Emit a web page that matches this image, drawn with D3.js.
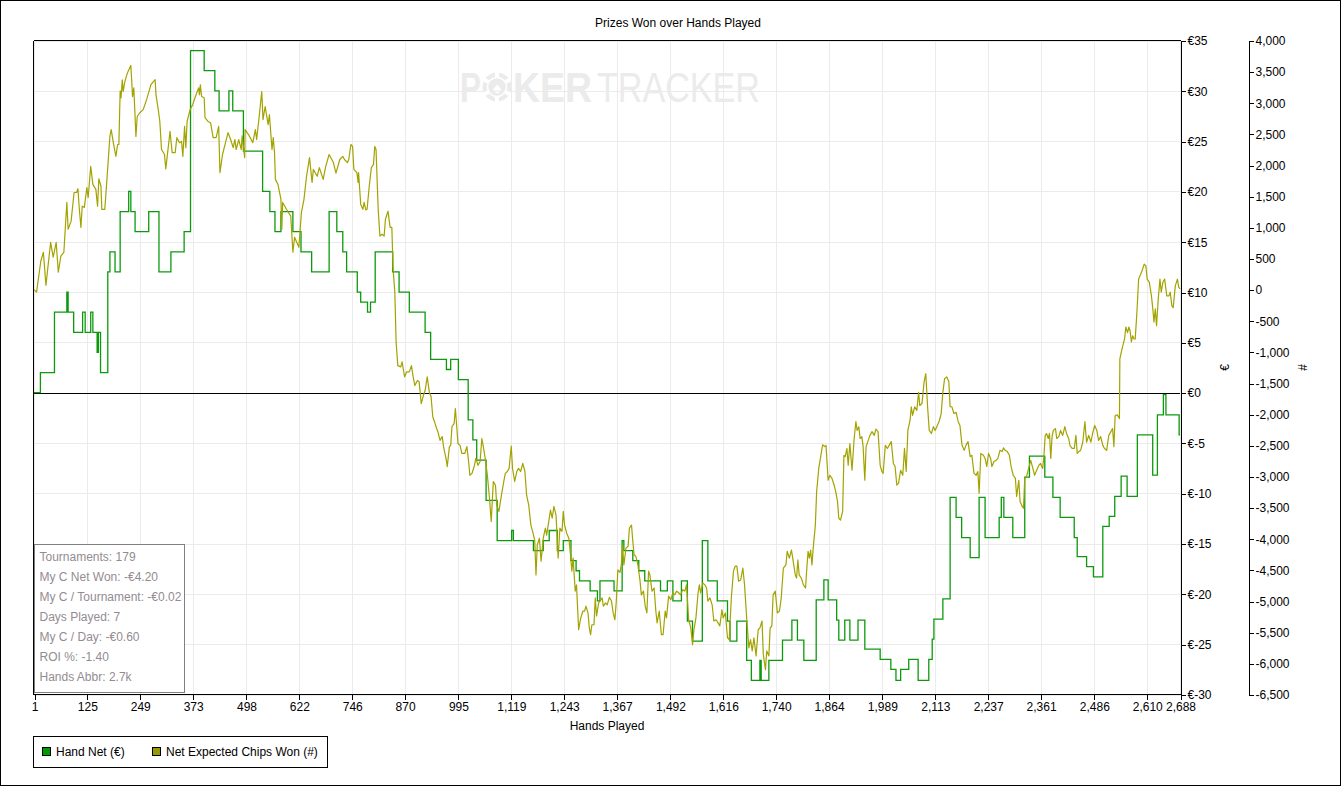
<!DOCTYPE html>
<html><head><meta charset="utf-8">
<script src="https://cdn.jsdelivr.net/npm/d3@7/dist/d3.min.js"></script>
<style>
html,body{margin:0;padding:0;background:#fff;}
svg{display:block;}
text{font-family:"Liberation Sans",Arial,sans-serif;}
</style></head><body>
<svg id="chart" width="1341" height="786"></svg>
<script>
// ---------- data ----------
const chartTitle = "Prizes Won over Hands Played";
const xTicks = [1,125,249,373,498,622,746,870,995,1119,1243,1367,1492,1616,1740,1864,1989,2113,2237,2361,2486,2610,2688];
const euroTicks = [-30,-25,-20,-15,-10,-5,0,5,10,15,20,25,30,35];
const chipTicks = [-6500,-6000,-5500,-5000,-4500,-4000,-3500,-3000,-2500,-2000,-1500,-1000,-500,0,500,1000,1500,2000,2500,3000,3500,4000];
const legendItems = ["Hand Net (€)", "Net Expected Chips Won (#)"];
const statsLines = ["Tournaments: 179","My C Net Won: -€4.20","My C / Tournament: -€0.02","Days Played: 7","My C / Day: -€0.60","ROI %: -1.40","Hands Abbr: 2.7k"];

// Hand Net (€): [hand, cumulative € after step]
const handNet = [[1,0],[16,2],[49,8],[78,10],[81,8],[94,6],[115,8],[121,6],[134,8],[139,6],[149,4],[152,6],[157,2],[174,12],[179,14],[191,12],[203,18],[223,20],[228,18],[238,16],[270,18],[294,12],[322,14],[353,16],[368,34],[400,32],[425,30],[435,28],[458,30],[467,28],[492,24],[537,20],[554,18],[566,16],[580,18],[608,16],[627,14],[652,12],[693,18],[711,16],[725,14],[734,12],[759,10],[767,9],[783,8],[790,9],[801,14],[842,12],[857,10],[881,8],[918,6],[931,3.3],[968,2.3],[978,3.3],[996,1.3],[1019,-2.7],[1030,-4.7],[1039,-6.7],[1061,-10.7],[1087,-14.7],[1121,-13.7],[1125,-14.7],[1172,-15.7],[1195,-14.7],[1209,-13.7],[1228,-15.7],[1242,-14.7],[1260,-16.7],[1272,-17.7],[1280,-18.7],[1305,-19.7],[1322,-20.7],[1328,-18.7],[1361,-19.7],[1380,-14.7],[1384,-15.7],[1405,-16.7],[1419,-17.7],[1433,-18.7],[1470,-19.7],[1486,-18.7],[1499,-20.7],[1519,-18.7],[1533,-22.7],[1545,-24.7],[1568,-14.7],[1581,-18.7],[1603,-20.7],[1627,-22.7],[1633,-24.7],[1649,-22.7],[1672,-26.6],[1683,-28.6],[1703,-26.6],[1706,-28.6],[1724,-26.6],[1756,-24.6],[1778,-22.6],[1791,-24.6],[1806,-26.6],[1835,-20.6],[1853,-18.6],[1863,-20.6],[1883,-22.6],[1888,-24.6],[1902,-22.6],[1914,-24.6],[1933,-22.6],[1949,-25.5],[1985,-26.5],[2010,-27.5],[2022,-28.6],[2033,-27.5],[2052,-26.5],[2074,-28.6],[2099,-26.5],[2107,-24.5],[2111,-22.5],[2132,-20.5],[2149,-10.4],[2163,-12.4],[2176,-14.4],[2196,-16.4],[2217,-10.4],[2231,-14.4],[2264,-12.4],[2269,-10.4],[2275,-12.4],[2296,-14.4],[2324,-8.4],[2335,-6.3],[2371,-8.4],[2390,-10.4],[2407,-12.4],[2440,-14.4],[2447,-16.3],[2469,-17.3],[2485,-18.3],[2507,-13.3],[2522,-12.3],[2535,-10.3],[2550,-8.3],[2564,-10.3],[2588,-4.2],[2624,-8.2],[2635,-2.2],[2649,-0.2],[2655,-2.2],[2686,-4.2],[2688,-4.2]];

// Net Expected Chips Won (#): [hand, chips]
const chipsWon = [[1,0],[7,-40],[17,460],[23,600],[29,70],[40,760],[46,520],[53,760],[58,280],[64,540],[71,600],[78,1400],[81,970],[88,1100],[95,1560],[101,1560],[104,1620],[107,1320],[111,1000],[114,1340],[119,1320],[125,1640],[128,1480],[134,1980],[139,1690],[146,1610],[150,1340],[153,1780],[158,1660],[160,1290],[167,1290],[172,1770],[179,2470],[182,2570],[187,2360],[193,2140],[197,2330],[200,2330],[203,3190],[205,3080],[208,3370],[210,3180],[214,3340],[220,3480],[228,3600],[230,3370],[232,3100],[235,3240],[240,2460],[243,2780],[249,2840],[257,2890],[265,3050],[273,3240],[275,3290],[281,3340],[285,3370],[287,3130],[293,2860],[296,2700],[300,2250],[307,2170],[310,1940],[313,2120],[320,2540],[325,2200],[332,2200],[336,2440],[342,2360],[347,2380],[350,2140],[354,2620],[357,2280],[360,2700],[367,2890],[373,2970],[381,3130],[387,3240],[389,3130],[391,3290],[394,3100],[400,3080],[402,2760],[409,2700],[415,2680],[421,2440],[428,2440],[434,2620],[437,1880],[443,2170],[450,2360],[456,2520],[462,2410],[468,2280],[472,2410],[475,2250],[481,2410],[487,2250],[489,2470],[495,2120],[496,2570],[504,2490],[514,2360],[520,2570],[523,2410],[529,2780],[535,3180],[538,2730],[543,2940],[550,2650],[553,2810],[559,2250],[562,2440],[565,2200],[567,1770],[573,1690],[580,1450],[582,970],[584,1400],[593,1290],[603,1180],[608,600],[612,840],[622,680],[628,1240],[634,1450],[640,1820],[647,2120],[653,1720],[656,1930],[665,1820],[670,1960],[679,1770],[685,1980],[693,2170],[703,2040],[709,1870],[718,2090],[725,2140],[729,2090],[736,2040],[739,2090],[744,2330],[748,2300],[751,1930],[758,1880],[761,1720],[762,1880],[767,1370],[772,1290],[775,1400],[779,1280],[782,1290],[787,1660],[792,1960],[797,2010],[800,2300],[803,2250],[808,1290],[812,860],[817,890],[822,860],[825,1130],[831,1260],[836,1000],[840,1000],[843,330],[847,-40],[850,-840],[854,-1220],[861,-1240],[864,-1160],[870,-1400],[875,-1320],[881,-1320],[886,-1220],[890,-1400],[894,-1540],[900,-1460],[904,-1480],[909,-1830],[914,-1700],[918,-1620],[923,-1400],[928,-1650],[932,-1720],[936,-2040],[940,-2120],[945,-2230],[948,-2280],[953,-2420],[958,-2360],[962,-2550],[967,-2710],[970,-2840],[975,-2520],[978,-2500],[981,-2200],[986,-2150],[989,-1910],[992,-2180],[995,-2470],[1000,-2500],[1004,-2630],[1011,-2630],[1016,-2520],[1020,-2760],[1023,-2980],[1028,-2950],[1033,-2840],[1037,-2710],[1042,-2820],[1047,-2760],[1051,-2390],[1054,-2500],[1059,-2710],[1064,-2980],[1069,-3350],[1073,-3720],[1078,-3080],[1083,-3140],[1086,-3460],[1091,-3560],[1097,-3300],[1101,-3140],[1106,-2950],[1111,-2920],[1115,-2870],[1120,-2510],[1123,-2870],[1128,-3080],[1133,-2920],[1137,-2870],[1142,-2920],[1147,-2790],[1152,-2920],[1156,-3300],[1161,-3460],[1166,-3780],[1170,-3880],[1175,-4020],[1178,-4580],[1181,-4100],[1186,-3990],[1190,-4360],[1195,-3990],[1200,-3830],[1203,-3940],[1208,-3720],[1212,-3540],[1216,-3670],[1220,-3480],[1225,-3620],[1230,-4310],[1234,-3830],[1239,-3880],[1242,-3560],[1245,-3780],[1250,-3910],[1255,-3990],[1259,-4260],[1262,-4520],[1265,-4310],[1270,-4840],[1273,-4740],[1278,-5460],[1283,-5270],[1288,-5160],[1292,-5160],[1295,-5080],[1300,-5190],[1303,-5430],[1306,-5540],[1309,-5380],[1314,-5380],[1317,-4950],[1320,-5240],[1325,-5030],[1330,-4980],[1333,-4950],[1336,-5080],[1341,-5030],[1345,-5060],[1350,-4940],[1355,-5000],[1359,-5190],[1363,-5300],[1366,-5030],[1370,-4500],[1375,-4540],[1378,-4420],[1381,-4100],[1384,-4420],[1389,-4150],[1394,-4120],[1397,-3830],[1402,-3780],[1405,-4040],[1408,-4260],[1412,-4280],[1417,-4420],[1422,-4680],[1425,-4900],[1430,-4840],[1434,-5080],[1438,-5190],[1442,-4520],[1445,-4580],[1450,-4840],[1455,-4790],[1459,-5160],[1462,-5350],[1467,-5160],[1472,-5540],[1476,-5540],[1481,-5160],[1484,-5270],[1489,-4920],[1494,-4980],[1499,-4870],[1503,-4900],[1508,-4840],[1513,-4870],[1517,-4900],[1522,-4820],[1527,-4840],[1531,-4740],[1536,-5300],[1541,-5430],[1545,-5700],[1548,-5480],[1553,-5270],[1558,-4870],[1561,-4740],[1564,-4870],[1569,-4710],[1574,-4740],[1578,-4790],[1581,-5000],[1586,-4950],[1591,-5060],[1595,-5320],[1600,-5300],[1605,-5350],[1609,-5400],[1614,-5140],[1617,-5270],[1622,-5190],[1627,-5590],[1631,-5620],[1636,-4950],[1641,-4520],[1645,-4440],[1649,-4440],[1653,-4680],[1658,-4660],[1663,-4470],[1667,-4740],[1672,-5270],[1677,-5750],[1681,-5620],[1685,-5800],[1689,-5590],[1694,-5880],[1699,-5460],[1703,-5430],[1708,-5320],[1711,-5860],[1716,-6100],[1719,-5800],[1724,-5880],[1727,-5430],[1731,-5400],[1734,-4900],[1739,-4840],[1744,-5190],[1749,-5160],[1753,-4950],[1758,-4470],[1764,-4420],[1767,-4200],[1772,-4310],[1777,-4180],[1781,-4360],[1786,-4580],[1789,-4630],[1792,-4340],[1795,-4580],[1800,-4630],[1805,-4740],[1810,-4790],[1813,-4470],[1816,-4200],[1819,-4310],[1822,-4180],[1825,-4420],[1828,-4150],[1833,-3780],[1836,-3250],[1841,-2870],[1846,-2660],[1850,-2490],[1855,-2520],[1858,-2500],[1863,-3060],[1867,-2980],[1872,-3030],[1877,-3140],[1881,-3250],[1885,-3400],[1888,-3670],[1892,-3700],[1897,-3560],[1900,-2660],[1903,-2680],[1907,-2550],[1910,-2820],[1914,-2470],[1919,-2900],[1924,-2390],[1928,-2120],[1931,-2260],[1935,-2200],[1938,-2390],[1942,-2360],[1945,-2520],[1949,-3060],[1952,-2520],[1956,-2440],[1961,-2340],[1966,-2280],[1971,-2340],[1975,-2240],[1980,-2280],[1985,-2820],[1989,-2920],[1992,-2950],[1997,-2500],[2002,-2550],[2006,-2500],[2011,-2440],[2016,-2790],[2020,-2840],[2024,-3140],[2028,-3110],[2033,-2900],[2038,-2980],[2042,-2550],[2046,-2920],[2050,-2260],[2055,-2100],[2058,-1880],[2061,-2020],[2066,-1880],[2071,-1940],[2075,-1650],[2078,-1860],[2083,-1830],[2088,-1480],[2092,-1350],[2096,-1860],[2100,-2260],[2105,-2310],[2110,-2200],[2114,-2260],[2119,-2180],[2124,-2100],[2128,-1990],[2132,-1650],[2136,-1430],[2141,-1400],[2146,-1480],[2149,-1880],[2153,-1880],[2158,-1990],[2163,-1970],[2168,-2120],[2172,-2180],[2177,-2500],[2182,-2580],[2186,-2500],[2191,-2440],[2196,-2680],[2200,-2660],[2205,-2950],[2210,-2980],[2214,-2920],[2217,-3270],[2221,-2630],[2227,-2660],[2231,-2710],[2235,-2840],[2239,-2630],[2244,-2710],[2247,-2840],[2252,-2760],[2257,-2740],[2261,-2710],[2266,-2580],[2271,-2600],[2274,-2540],[2278,-2580],[2283,-2600],[2288,-2660],[2292,-2840],[2297,-2980],[2302,-3030],[2305,-3320],[2310,-3060],[2313,-3400],[2318,-3480],[2321,-3510],[2324,-3030],[2329,-2980],[2333,-2870],[2338,-2740],[2343,-2870],[2347,-2980],[2352,-2900],[2357,-2820],[2361,-2790],[2366,-2870],[2369,-2660],[2372,-2340],[2375,-2310],[2379,-2390],[2382,-2310],[2385,-2710],[2388,-2360],[2391,-2260],[2396,-2230],[2399,-2390],[2404,-2360],[2408,-2260],[2413,-2340],[2418,-2200],[2422,-2310],[2427,-2390],[2430,-2500],[2435,-2550],[2440,-2550],[2444,-2340],[2447,-2630],[2451,-2600],[2455,-2580],[2460,-2450],[2465,-2120],[2469,-2450],[2474,-2340],[2479,-2450],[2483,-2310],[2488,-2180],[2493,-2260],[2497,-2420],[2502,-2360],[2507,-2500],[2511,-2550],[2516,-2580],[2521,-2340],[2526,-2280],[2530,-2230],[2533,-2520],[2536,-2020],[2541,-2010],[2546,-2070],[2547,-1110],[2552,-950],[2555,-870],[2558,-790],[2561,-600],[2565,-690],[2568,-600],[2571,-660],[2574,-840],[2577,-740],[2580,-790],[2583,-790],[2587,-360],[2591,170],[2594,220],[2599,300],[2604,410],[2608,380],[2611,170],[2616,120],[2621,-100],[2624,-290],[2627,-520],[2630,-310],[2633,-580],[2637,-150],[2641,170],[2644,-40],[2648,120],[2652,170],[2657,-100],[2662,-100],[2665,-40],[2669,-260],[2672,-290],[2677,60],[2682,170],[2685,40],[2688,10]];

// ---------- drawing ----------
const svg = d3.select("#chart");
const W = 1341, H = 786;
const plot = {left: 34, right: 1180, top: 40.5, bottom: 694.5};
const colors = {net: "#0c9a0c", chips: "#a3a300", netSwatch: "#009900", chipsSwatch: "#999900", grid: "#ebebeb"};

const loc = d3.formatLocale({decimal: ".", thousands: ",", grouping: [3], currency: ["", ""], minus: "-"});
const fmtInt = loc.format(",");

const x = d3.scaleLinear().domain([1, 2688]).range([plot.left, plot.right]);
const yE = d3.scaleLinear().domain([-30, 35]).range([plot.bottom, plot.top]);
const yC = d3.scaleLinear().domain([-6500, 4000]).range([plot.bottom, plot.top]);

// outer frame
svg.append("rect").attr("x", 0.5).attr("y", 0.5).attr("width", W - 1).attr("height", H - 1)
  .attr("fill", "#fff").attr("stroke", "#000").attr("shape-rendering", "crispEdges");

// title
svg.append("text").attr("x", 678).attr("y", 27).attr("text-anchor", "middle")
  .attr("font-size", 12).attr("fill", "#000").text(chartTitle);

// gridlines
const grid = svg.append("g").attr("shape-rendering", "crispEdges").attr("stroke", colors.grid);
grid.selectAll("line.v").data(xTicks).join("line")
  .attr("x1", d => Math.round(x(d)) + 0.5).attr("x2", d => Math.round(x(d)) + 0.5)
  .attr("y1", plot.top).attr("y2", plot.bottom);
grid.selectAll("line.h").data(euroTicks).join("line")
  .attr("y1", d => Math.round(yE(d)) + 0.5).attr("y2", d => Math.round(yE(d)) + 0.5)
  .attr("x1", plot.left).attr("x2", plot.right);

// watermark
const wm = svg.append("g").attr("fill", "#ebebeb");
wm.append("text").attr("x", 460).attr("y", 102).attr("font-size", 42).attr("font-weight", "bold")
  .attr("textLength", 21).attr("lengthAdjust", "spacingAndGlyphs").text("P");
wm.append("circle").attr("cx", 497).attr("cy", 87).attr("r", 14.5);
wm.append("circle").attr("cx", 497).attr("cy", 87).attr("r", 9.5).attr("fill", "none").attr("stroke", "#fff").attr("stroke-width", 1.5);
[0, 60, 120, 180, 240, 300].forEach(a => {
  wm.append("rect").attr("x", -2).attr("y", -15).attr("width", 4).attr("height", 5).attr("fill", "#fff")
    .attr("transform", `translate(497,87) rotate(${a})`);
});
wm.append("text").attr("x", 497).attr("y", 93).attr("text-anchor", "middle").attr("font-size", 15)
  .attr("font-family", "DejaVu Sans").attr("fill", "#fff").text("♠");
wm.append("text").attr("x", 513).attr("y", 102).attr("font-size", 42).attr("font-weight", "bold")
  .attr("textLength", 79).attr("lengthAdjust", "spacingAndGlyphs").text("KER");
wm.append("text").attr("x", 597).attr("y", 102).attr("font-size", 42)
  .attr("textLength", 163).attr("lengthAdjust", "spacingAndGlyphs").text("TRACKER");

// zero line
svg.append("line").attr("shape-rendering", "crispEdges").attr("stroke", "#000")
  .attr("x1", plot.left).attr("x2", plot.right)
  .attr("y1", Math.round(yE(0)) + 0.5).attr("y2", Math.round(yE(0)) + 0.5);

// series
const netLine = d3.line().x(d => x(d[0])).y(d => yE(d[1])).curve(d3.curveStepAfter);
const chipLine = d3.line().x(d => x(d[0])).y(d => yC(d[1]));
svg.append("path").datum(handNet).attr("d", netLine).attr("fill", "none")
  .attr("stroke", colors.net).attr("stroke-width", 1.3).attr("stroke-linejoin", "miter");
svg.append("path").datum(chipsWon).attr("d", chipLine).attr("fill", "none")
  .attr("stroke", colors.chips).attr("stroke-width", 1.2).attr("stroke-linejoin", "round");

// plot frame (left, top, bottom)
const frame = svg.append("g").attr("shape-rendering", "crispEdges").attr("stroke", "#000");
frame.append("line").attr("x1", 33.5).attr("x2", 33.5).attr("y1", plot.top).attr("y2", plot.bottom + 0.5);
frame.append("line").attr("x1", 33.5).attr("x2", 1180.5).attr("y1", plot.top).attr("y2", plot.top);
frame.append("line").attr("x1", 33.5).attr("x2", 1180.5).attr("y1", plot.bottom).attr("y2", plot.bottom);

// x axis
const xAxis = d3.axisBottom(x).tickValues(xTicks).tickFormat(fmtInt).tickSize(5).tickSizeOuter(0);
const gx = svg.append("g").attr("transform", `translate(0.5,${plot.bottom})`).call(xAxis);
gx.select(".domain").remove();
gx.selectAll("line").attr("stroke", "#000").attr("shape-rendering", "crispEdges");
gx.selectAll("text").attr("font-size", 12).attr("fill", "#000").attr("dy", "0.71em").attr("y", 8)
  .attr("font-family", "Liberation Sans, Arial, sans-serif");
svg.append("text").attr("x", (plot.left + plot.right) / 2).attr("y", 730).attr("text-anchor", "middle")
  .attr("font-size", 12).text("Hands Played");

// euro axis
const eAxis = d3.axisRight(yE).tickValues(euroTicks).tickFormat(d => "€" + fmtInt(d)).tickSize(5).tickSizeOuter(0);
const ge = svg.append("g").attr("transform", `translate(1180.5,0.5)`).call(eAxis);
ge.select(".domain").attr("stroke", "#000").attr("shape-rendering", "crispEdges");
ge.selectAll("line").attr("stroke", "#000").attr("shape-rendering", "crispEdges");
ge.selectAll("text").attr("font-size", 12).attr("fill", "#000").attr("x", 7)
  .attr("font-family", "Liberation Sans, Arial, sans-serif");

// chips axis
const cAxis = d3.axisRight(yC).tickValues(chipTicks).tickFormat(fmtInt).tickSize(5).tickSizeOuter(0);
const gc = svg.append("g").attr("transform", `translate(1248.5,0.5)`).call(cAxis);
gc.select(".domain").attr("stroke", "#000").attr("shape-rendering", "crispEdges");
gc.selectAll("line").attr("stroke", "#000").attr("shape-rendering", "crispEdges");
gc.selectAll("text").attr("font-size", 12).attr("fill", "#000").attr("x", 7)
  .attr("font-family", "Liberation Sans, Arial, sans-serif");

// axis titles
svg.append("text").attr("transform", `translate(1229,${(plot.top + plot.bottom) / 2}) rotate(-90)`)
  .attr("text-anchor", "middle").attr("font-size", 12).text("€");
svg.append("text").attr("transform", `translate(1307,${(plot.top + plot.bottom) / 2}) rotate(-90)`)
  .attr("text-anchor", "middle").attr("font-size", 12).text("#");

// stats box
const sb = svg.append("g");
sb.append("rect").attr("x", 34.5).attr("y", 544.5).attr("width", 150).attr("height", 148)
  .attr("fill", "#fff").attr("stroke", "#808080").attr("shape-rendering", "crispEdges");
sb.selectAll("text").data(statsLines).join("text")
  .attr("x", 39.5).attr("y", (d, i) => 561 + i * 20).attr("font-size", 12).attr("fill", "#938b92")
  .text(d => d);

// legend
const lg = svg.append("g");
lg.append("rect").attr("x", 33.5).attr("y", 736.5).attr("width", 294).attr("height", 31)
  .attr("fill", "#fff").attr("stroke", "#000").attr("shape-rendering", "crispEdges");
const swX = [42.5, 152.5];
const swC = [colors.netSwatch, colors.chipsSwatch];
legendItems.forEach((t, i) => {
  lg.append("rect").attr("x", swX[i]).attr("y", 747.5).attr("width", 8).attr("height", 8)
    .attr("fill", swC[i]).attr("stroke", "#000").attr("shape-rendering", "crispEdges");
  lg.append("text").attr("x", swX[i] + 13.5).attr("y", 756).attr("font-size", 12).attr("fill", "#000").text(t);
});
</script>
</body></html>
